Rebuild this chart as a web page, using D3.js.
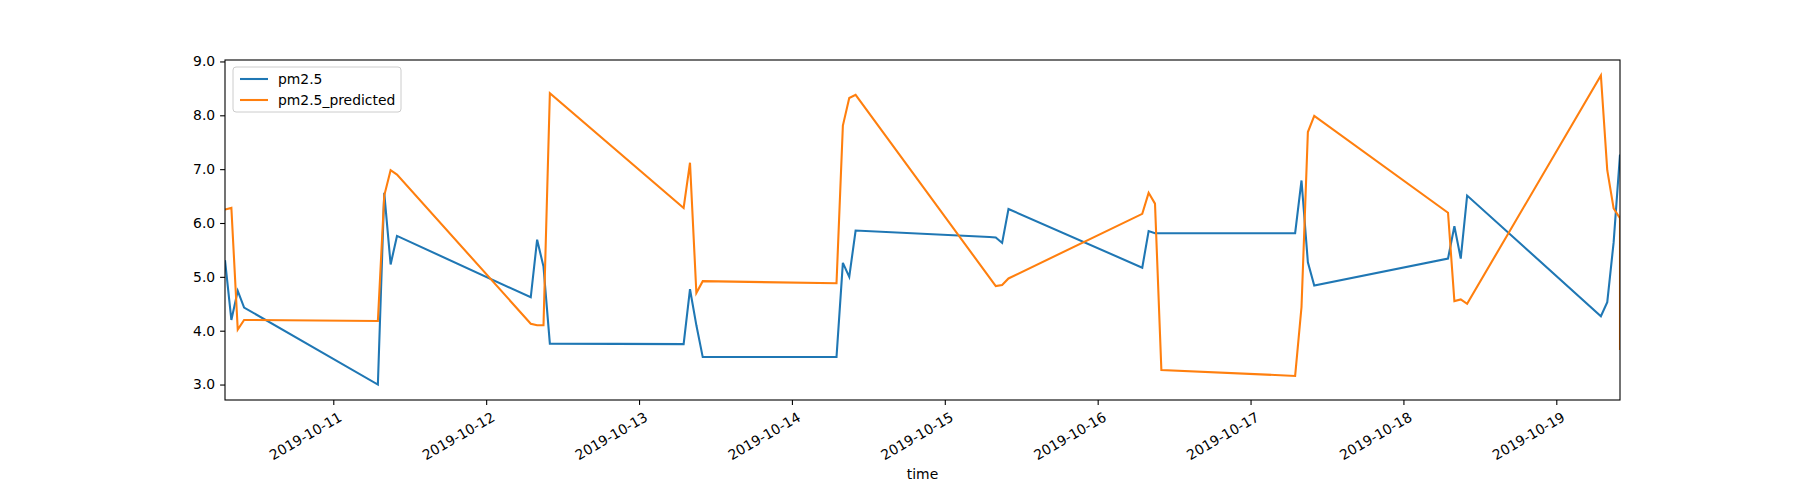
<!DOCTYPE html>
<html>
<head>
<meta charset="utf-8">
<script src="https://cdn.jsdelivr.net/npm/d3@7"></script>
<style>
  body { margin: 0; background: #fff; }
  text { font-family: "DejaVu Sans", sans-serif; }
</style>
</head>
<body>
<svg id="chart" width="1800" height="500"></svg>
<script>
// hourly readings, 07:00-10:00 each day (last hour repeated once)
const days = ["2019-10-10", "2019-10-11", "2019-10-12", "2019-10-13", "2019-10-14",
              "2019-10-15", "2019-10-16", "2019-10-17", "2019-10-18", "2019-10-19"];
const hours = ["07:00", "08:00", "09:00", "10:00"];
const times = days.flatMap(d => hours.map(h => d + "T" + h)).concat(["2019-10-19T10:00"]);

const pm25 = [
  5.31, 4.20, 4.74, 4.43,
  3.00, 6.56, 5.23, 5.76,
  4.62, 5.69, 5.19, 3.76,
  3.75, 4.77, 4.10, 3.51,
  3.51, 5.26, 5.00, 5.86,
  5.74, 5.73, 5.63, 6.26,
  5.17, 5.85, 5.81, 5.81,
  5.81, 6.79, 5.27, 4.84,
  5.34, 5.94, 5.34, 6.51,
  4.27, 4.53, 5.64, 7.27, 7.27
];
const pm25Predicted = [
  6.25, 6.28, 4.02, 4.20,
  4.18, 6.51, 6.98, 6.90,
  4.13, 4.10, 4.10, 8.41,
  6.28, 7.12, 4.70, 4.92,
  4.88, 7.81, 8.32, 8.38,
  4.99, 4.83, 4.85, 4.97,
  6.17, 6.56, 6.36, 3.27,
  3.16, 4.44, 7.69, 7.99,
  6.19, 4.55, 4.58, 4.50,
  8.74, 6.98, 6.27, 6.09, 3.64
];
const yTicks = [3, 4, 5, 6, 7, 8, 9];

const parse = d3.timeParse("%Y-%m-%dT%H:%M");
const series = [
  { name: "pm2.5", color: "#1f77b4", values: pm25 },
  { name: "pm2.5_predicted", color: "#ff7f0e", values: pm25Predicted }
];

const m = { left: 225, right: 1620, top: 60, bottom: 400 };
const svg = d3.select("#chart");

const x = d3.scaleTime()
  .domain(d3.extent(times, parse))
  .range([m.left, m.right]);
const y = d3.scaleLinear()
  .domain([2.713, 9.027])
  .range([m.bottom, m.top]);

svg.append("clipPath").attr("id", "clip")
  .append("rect")
  .attr("x", m.left).attr("y", m.top)
  .attr("width", m.right - m.left).attr("height", m.bottom - m.top);

const line = d3.line()
  .x((d, i) => x(parse(times[i])))
  .y(d => y(d));

series.forEach(s => {
  svg.append("path")
    .attr("d", line(s.values))
    .attr("fill", "none")
    .attr("stroke", s.color)
    .attr("stroke-width", 2.08)
    .attr("stroke-linejoin", "miter")
    .attr("clip-path", "url(#clip)");
});

// axes
const xAxis = svg.append("g")
  .attr("transform", `translate(0,${m.bottom})`)
  .call(d3.axisBottom(x).ticks(d3.timeDay.every(1)).tickFormat(d3.timeFormat("%Y-%m-%d")).tickSizeOuter(0).tickSize(4.9));
xAxis.select(".domain").remove();
xAxis.selectAll("text")
  .attr("font-size", 13.9)
  .attr("fill", "#000")
  .attr("text-anchor", "end")
  .attr("dy", null)
  .attr("y", 0)
  .attr("transform", "translate(4,11) rotate(-30)")
  .attr("dominant-baseline", "hanging");
xAxis.selectAll("line").attr("stroke", "#000").attr("stroke-width", 1.1);

const yAxis = svg.append("g")
  .attr("transform", `translate(${m.left},0)`)
  .call(d3.axisLeft(y).tickValues(yTicks).tickSizeOuter(0).tickSize(4.9).tickPadding(4.9));
yAxis.select(".domain").remove();
yAxis.selectAll("text").attr("font-size", 13.9).attr("fill", "#000");
yAxis.selectAll("line").attr("stroke", "#000").attr("stroke-width", 1.1);

svg.append("rect")
  .attr("x", m.left).attr("y", m.top)
  .attr("width", m.right - m.left).attr("height", m.bottom - m.top)
  .attr("fill", "none").attr("stroke", "#000").attr("stroke-width", 1.1);

svg.append("text")
  .attr("x", (m.left + m.right) / 2).attr("y", 479)
  .attr("text-anchor", "middle").attr("font-size", 13.9)
  .text("time");

// legend
const lg = svg.append("g").attr("transform", "translate(233,67)");
lg.append("rect")
  .attr("width", 168).attr("height", 45).attr("rx", 3)
  .attr("fill", "#fff").attr("fill-opacity", 0.8)
  .attr("stroke", "#ccc");
series.forEach((s, i) => {
  const yy = 12 + i * 21;
  lg.append("line")
    .attr("x1", 7).attr("x2", 35).attr("y1", yy).attr("y2", yy)
    .attr("stroke", s.color).attr("stroke-width", 2.08);
  lg.append("text")
    .attr("x", 45).attr("y", yy + 5)
    .attr("font-size", 13.9)
    .text(s.name);
});
</script>
</body>
</html>
